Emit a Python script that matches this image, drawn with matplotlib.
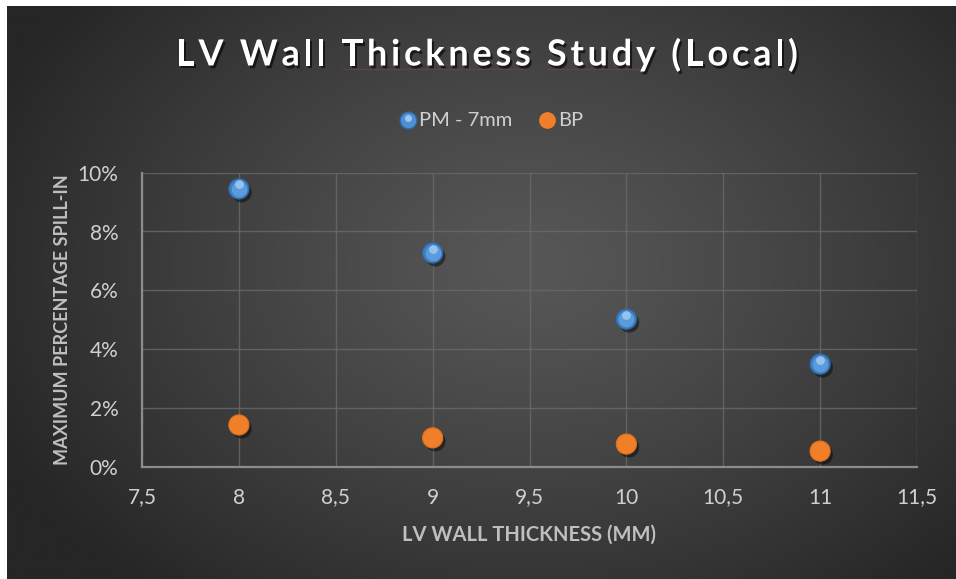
import numpy as np
import matplotlib
matplotlib.use("Agg")
import matplotlib.pyplot as plt
import matplotlib.patheffects as pe
from matplotlib.lines import Line2D
from matplotlib.ticker import FuncFormatter, MultipleLocator

# Data
thickness = [8, 9, 10, 11]
pm_7mm = [0.0945, 0.0727, 0.0502, 0.0349]
bp = [0.0142, 0.0098, 0.0077, 0.0053]
series_names = ["PM - 7mm", "BP"]
title = "LV Wall Thickness Study (Local)"
x_label = "LV WALL THICKNESS (MM)"
y_label = "MAXIMUM PERCENTAGE SPILL-IN"

W, H, DPI = 956, 579, 100
plt.rcParams["font.family"] = ["Lato", "DejaVu Sans"]
fig = plt.figure(figsize=(W / DPI, H / DPI), dpi=DPI, facecolor="white")
renderer = fig.canvas.get_renderer()

# Dark radial-gradient chart background
left_px, top_px = 7, 6
bg = fig.add_axes([left_px / W, 0, 1 - left_px / W, 1 - top_px / H])
bg.set_axis_off()
ny, nx = 300, 500
yy, xx = np.mgrid[0:ny, 0:nx]
cx, cy = nx * 0.55, ny * 0.45
r = np.sqrt(((xx - cx) / (nx * 0.62)) ** 2 + ((yy - cy) / (ny * 0.75)) ** 2)
r = np.clip(r, 0, 1)
inner, outer = 0x57 / 255, 0x26 / 255
val = inner + (outer - inner) * r ** 1.2
bg.imshow(np.dstack([val, val, val]), aspect="auto", extent=[0, 1, 0, 1], interpolation="bilinear")
bg.set_xlim(0, 1)
bg.set_ylim(0, 1)

# Plot area
x0, x1 = 142, 917
y0, y1 = 172.7, 466.7
ax = fig.add_axes([x0 / W, 1 - y1 / H, (x1 - x0) / W, (y1 - y0) / H])
ax.patch.set_alpha(0)
ax.set_xlim(7.5, 11.5)
ax.set_ylim(0, 0.10)
ax.xaxis.set_major_locator(MultipleLocator(0.5))
ax.yaxis.set_major_locator(MultipleLocator(0.02))
ax.xaxis.set_major_formatter(FuncFormatter(lambda v, p: (f"{v:g}").replace(".", ",")))
ax.yaxis.set_major_formatter(FuncFormatter(lambda v, p: f"{v * 100:.0f}%"))
ax.grid(True, color="#6a6a6a", lw=1.0, alpha=0.8)
ax.set_axisbelow(True)
for s in ["top", "right"]:
    ax.spines[s].set_visible(False)
for s in ["left", "bottom"]:
    ax.spines[s].set_color("#8c8c8c")
    ax.spines[s].set_linewidth(1.6)
ax.tick_params(length=0, colors="#d0d0d0", labelsize=15)
ax.tick_params(axis="y", pad=17)
ax.tick_params(axis="x", pad=15)

shadow = [pe.withSimplePatchShadow(offset=(2, -2.5), shadow_rgbFace="black", alpha=0.45)]

# Blue glossy spheres
ax.scatter(thickness, pm_7mm, s=210, color="#3f7fc4", edgecolors="#2d6aa8", linewidths=0.8,
           zorder=3, path_effects=shadow)
ax.scatter(thickness, pm_7mm, s=125, color="#5b9bdc", linewidths=0, zorder=4)
ax.scatter(thickness, [v + 0.0015 for v in pm_7mm], s=40, color="#9cc8f0", linewidths=0, zorder=5, alpha=0.9)

# Orange points
ax.scatter(thickness, bp, s=210, color="#f07f2a", edgecolors="#e0701c", linewidths=0.8, zorder=3,
           path_effects=shadow)

# Axis titles
ax.set_xlabel(x_label, color="#bfbfbf", fontsize=14.5, fontweight="bold", labelpad=12)
ax.set_ylabel(y_label, color="#bfbfbf", fontsize=13, fontweight="bold", labelpad=5)


def tracked_text(s, x_left, y_center, target_width, **kw):
    """Draw a string left to right with extra letter spacing to fill target_width (pixels)."""
    probe = fig.text(0, 0, s, **kw)
    natural = probe.get_window_extent(renderer).width
    probe.remove()
    extra = (target_width - natural) / max(len(s) - 1, 1)
    positions = []
    for i, ch in enumerate(s + "|"):
        if i == 0:
            pre = 0.0
        else:
            p = fig.text(0, 0, s[:i] + "|", **kw)
            q = fig.text(0, 0, "|", **kw)
            pre = p.get_window_extent(renderer).width - q.get_window_extent(renderer).width
            p.remove()
            q.remove()
        xp = x_left + pre + i * extra
        positions.append(xp)
        if i < len(s) and ch != " ":
            fig.text(xp / W, 1 - y_center / H, ch, ha="left", va="center", **kw)
    return positions


# Chart title
title_kw = dict(color="white", fontsize=26, fontweight="bold",
                path_effects=[pe.withSimplePatchShadow(offset=(1.5, -2), shadow_rgbFace="black", alpha=0.6)])
pos = tracked_text(title, 176, 55, 622, **title_kw)

# Faint spell-check style underline below two title words
for word in ["Thickness", "Study"]:
    i0 = title.index(word)
    i1 = i0 + len(word)
    xa = pos[i0]
    xb = pos[i1] - 10
    fig.add_artist(Line2D([xa / W, xb / W], [1 - 69 / H, 1 - 69 / H], color="#a04040",
                          lw=0.6, alpha=0.55, transform=fig.transFigure))

# Legend
leg_y = 1 - 120 / H
mk = Line2D([408 / W], [leg_y], marker="o", markersize=12, color="#4f8fd4",
            markeredgecolor="#2d6aa8", transform=fig.transFigure, linestyle="none")
fig.add_artist(mk)
fig.add_artist(Line2D([408 / W], [leg_y + 2 / H], marker="o", markersize=5, color="#9cc8f0",
                      markeredgewidth=0, transform=fig.transFigure, linestyle="none"))
fig.text(419 / W, leg_y, series_names[0], ha="left", va="center", color="#d0d0d0", fontsize=14.5)
mk2 = Line2D([547 / W], [leg_y], marker="o", markersize=11, color="#f07f2a",
             markeredgecolor="#f07f2a", transform=fig.transFigure, linestyle="none")
fig.add_artist(mk2)
fig.text(558 / W, leg_y, series_names[1], ha="left", va="center", color="#d0d0d0", fontsize=14.5)

fig.savefig("out.png", dpi=DPI, facecolor="white")
